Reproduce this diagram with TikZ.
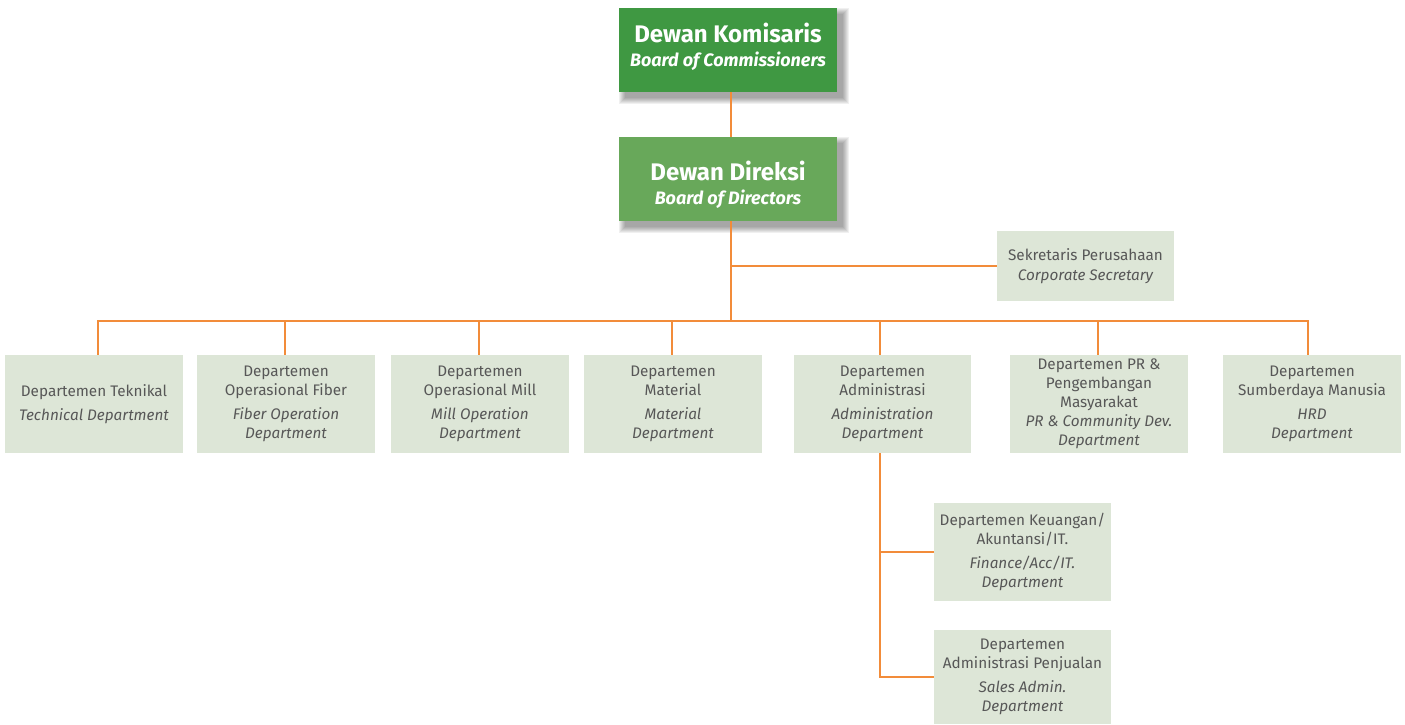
\documentclass[tikz,border=0pt]{standalone}
\usepackage{fontspec}
\setmainfont{Fira Sans}
\definecolor{gdark}{HTML}{3F9842}
\definecolor{glight}{HTML}{68A85A}
\definecolor{boxfill}{HTML}{DDE6D7}
\definecolor{txtgray}{HTML}{575757}
\definecolor{lineor}{HTML}{F28C3A}
\newcommand\dfont{\fontsize{15.3}{19}\selectfont}
\newcommand\tfont{\fontsize{24}{25}\selectfont\bfseries}
\newcommand\sfont{\fontsize{18}{19}\selectfont\bfseries\itshape}
\tikzset{
  topbox/.style={minimum width=218pt, minimum height=84pt, inner sep=0pt},
  toptext/.style={inner sep=0pt, text=white, align=center, font=\tfont},
  deptbox/.style={fill=boxfill, minimum width=178pt, minimum height=98pt, inner sep=0pt, text=txtgray, align=center, font=\dfont},
  link/.style={draw=lineor, line width=1.8pt}
}
\begin{document}
\begin{tikzpicture}[x=1pt,y=-1pt]
\useasboundingbox (0,0) rectangle (1405,724);
% soft shadows
\foreach \yy in {8,137}{
  \foreach \i in {0,1,...,6}{
    \fill[black,opacity=0.06] (625-\i,\yy+6-\i) rectangle (843+\i,\yy+90+\i);
  }
}
\node[topbox, fill=gdark] (kom) at (728,50) {};
\node[toptext] (komt) at ([yshift=3pt]kom.center) {Dewan Komisaris\\[-1pt]{\sfont Board of Commissioners}};
\node[topbox, fill=glight] (dir) at (728,179) {};
\node[toptext] (dirt) at ([yshift=-5.5pt]dir.center) {Dewan Direksi\\[-1pt]{\sfont Board of Directors}};
\node[deptbox, minimum width=177pt, minimum height=70pt] (sek) at (1085.5,266) {Sekretaris Perusahaan\\[1pt]\itshape Corporate Secretary};
\node[deptbox] (d1) at (94,404) {Departemen Teknikal\\[5pt]\itshape Technical Department};
\node[deptbox] (d2) at (286,404) {Departemen\\Operasional Fiber\\[5pt]\itshape Fiber Operation\\\itshape Department};
\node[deptbox] (d3) at (480,404) {Departemen\\Operasional Mill\\[5pt]\itshape Mill Operation\\\itshape Department};
\node[deptbox] (d4) at (673,404) {Departemen\\Material\\[5pt]\itshape Material\\\itshape Department};
\node[deptbox, minimum width=177pt] (d5) at (882.5,404) {Departemen\\Administrasi\\[5pt]\itshape Administration\\\itshape Department};
\node[deptbox] (d6) at (1099,404) {Departemen PR \&\\Pengembangan\\Masyarakat\\\itshape PR \& Community Dev.\\\itshape Department};
\node[deptbox] (d7) at (1312,404) {Departemen\\Sumberdaya Manusia\\[5pt]\itshape HRD\\\itshape Department};
\node[deptbox, minimum width=177pt] (fin) at (1022.5,552) {Departemen Keuangan/\\Akuntansi/IT.\\[5pt]\itshape Finance/Acc/IT.\\\itshape Department};
\node[deptbox, minimum width=177pt, minimum height=94pt] (sal) at (1022.5,677) {Departemen\\Administrasi Penjualan\\[5pt]\itshape Sales Admin.\\\itshape Department};
\coordinate (bus) at (731,321);
\coordinate (trk) at (880,453);
\draw[link] (kom.south -| bus) -- (dir.north -| bus);
\draw[link] (dir.south -| bus) -- (bus);
\draw[link] (sek.west) -- (sek.west -| bus);
\draw[link] (d1.north -| 98,0) |- (bus);
\draw[link] (d2.north -| 285,0) |- (bus);
\draw[link] (d3.north -| 479,0) |- (bus);
\draw[link] (d4.north -| 672,0) |- (bus);
\draw[link] (d5.north -| 880,0) |- (bus);
\draw[link] (d6.north -| 1098,0) |- (bus);
\draw[link] (d7.north -| 1308,0) |- (bus);
\draw[link] (d5.south -| trk) |- (fin.west);
\draw[link] (d5.south -| trk) |- (sal.west);
\end{tikzpicture}
\end{document}
